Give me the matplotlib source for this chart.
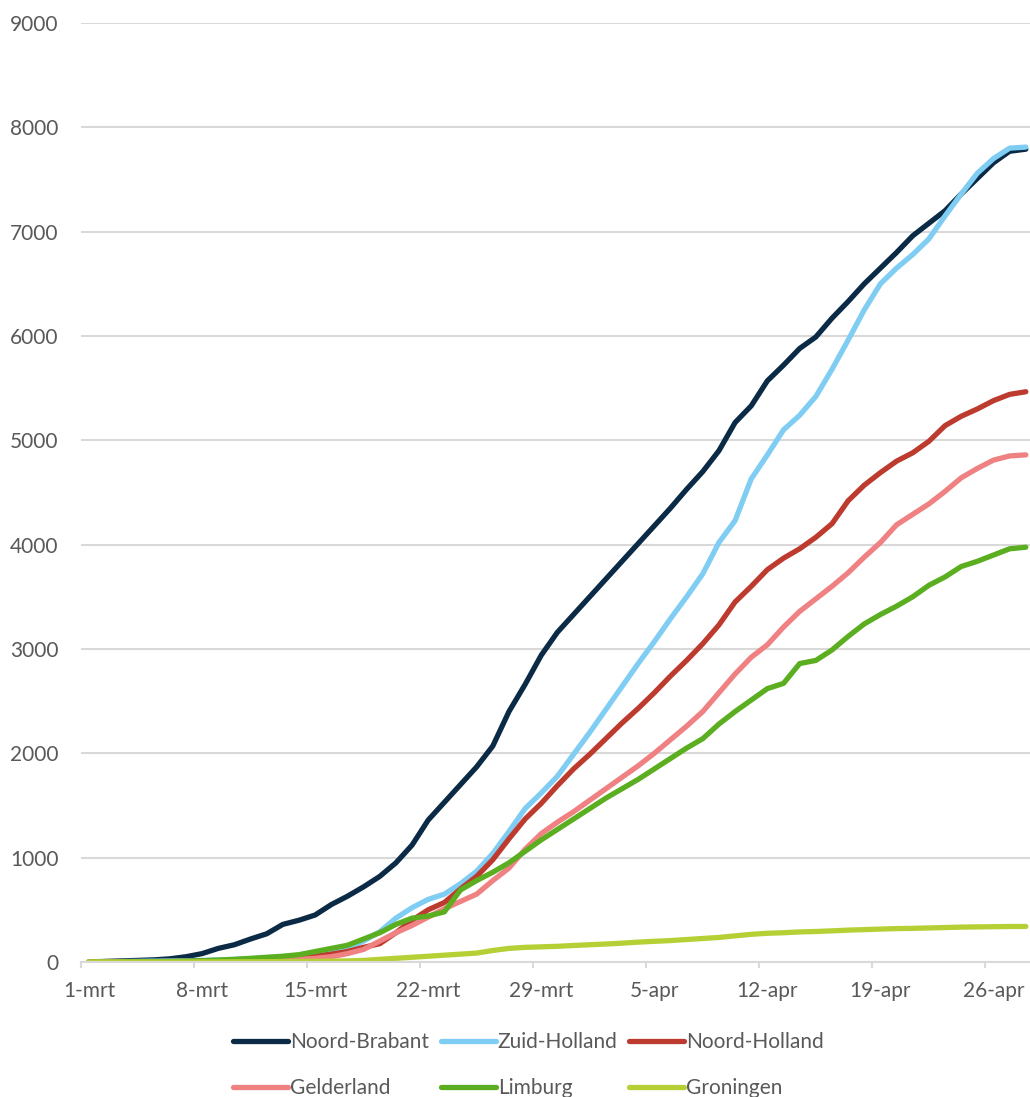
import numpy as np
import matplotlib
matplotlib.use('Agg')
import matplotlib.pyplot as plt

plt.rcParams['font.family'] = ['Lato', 'DejaVu Sans']

# cumulative counts per province, one value per day starting 1 March
noord_brabant = [0, 5, 10, 15, 20, 30, 50, 80, 130, 165,
                 220, 270, 360, 400, 450, 550, 630, 720, 820, 950,
                 1120, 1360, 1530, 1700, 1870, 2070, 2400, 2660, 2940, 3160,
                 3330, 3500, 3670, 3840, 4010, 4180, 4350, 4530, 4700, 4900,
                 5170, 5330, 5570, 5720, 5880, 5990, 6170, 6330, 6500, 6650,
                 6800, 6960, 7080, 7200, 7360, 7510, 7660, 7770, 7790]
zuid_holland = [0, 2, 4, 6, 8, 10, 12, 15, 20, 25,
                30, 40, 50, 60, 80, 100, 130, 200, 290, 420,
                520, 600, 650, 750, 870, 1040, 1250, 1470, 1620, 1780,
                1990, 2200, 2420, 2640, 2860, 3070, 3290, 3500, 3720, 4020,
                4230, 4630, 4860, 5100, 5240, 5420, 5680, 5960, 6250, 6500,
                6650, 6780, 6930, 7150, 7360, 7560, 7700, 7800, 7810]
noord_holland = [0, 0, 1, 2, 3, 4, 5, 7, 10, 14,
                 18, 24, 30, 40, 55, 75, 100, 140, 175, 280,
                 400, 500, 570, 700, 820, 980, 1180, 1370, 1520, 1690,
                 1850, 1990, 2140, 2290, 2430, 2580, 2740, 2890, 3050, 3230,
                 3450, 3600, 3760, 3870, 3960, 4070, 4200, 4420, 4570, 4690,
                 4800, 4880, 4990, 5140, 5230, 5300, 5380, 5440, 5465]
gelderland = [0, 0, 0, 1, 2, 3, 4, 5, 7, 9,
              12, 15, 20, 25, 35, 50, 80, 120, 200, 280,
              350, 430, 510, 580, 650, 780, 900, 1080, 1230, 1340,
              1440, 1550, 1660, 1770, 1880, 2000, 2130, 2260, 2400, 2580,
              2760, 2920, 3040, 3210, 3360, 3480, 3600, 3730, 3880, 4020,
              4190, 4290, 4390, 4510, 4640, 4730, 4810, 4850, 4860]
limburg = [0, 0, 1, 2, 3, 5, 8, 12, 18, 25,
           35, 45, 55, 70, 100, 130, 160, 220, 280, 360,
           420, 440, 480, 690, 780, 860, 950, 1060, 1170, 1270,
           1370, 1470, 1570, 1660, 1750, 1850, 1950, 2050, 2140, 2280,
           2400, 2510, 2620, 2670, 2860, 2890, 2990, 3120, 3240, 3330,
           3410, 3500, 3610, 3690, 3790, 3840, 3900, 3960, 3975]
groningen = [0, 0, 0, 0, 0, 0, 0, 1, 1, 2,
             2, 3, 4, 5, 6, 8, 10, 15, 25, 35,
             45, 55, 65, 75, 85, 110, 130, 140, 145, 150,
             158, 165, 172, 180, 190, 198, 205, 215, 225, 235,
             250, 265, 275, 280, 288, 292, 298, 305, 310, 315,
             320, 322, 326, 330, 334, 336, 338, 340, 340]

provinces = ['Noord-Brabant', 'Zuid-Holland', 'Noord-Holland',
             'Gelderland', 'Limburg', 'Groningen']
series = [noord_brabant, zuid_holland, noord_holland, gelderland, limburg, groningen]
colors = ['#0B2A45', '#7FCDF2', '#BD3B2E', '#EF8183', '#5BAE1F', '#B5D034']

tick_labels = ['1-mrt', '8-mrt', '15-mrt', '22-mrt', '29-mrt',
               '5-apr', '12-apr', '19-apr', '26-apr']

grid_col = '#D9D9D9'
text_col = '#595959'

fig = plt.figure(figsize=(10.30, 10.97), dpi=100)
ax = fig.add_axes([0.0786, 0.1231, 0.9214, 0.856])

days = np.arange(len(noord_brabant))
handles = []
for name, vals, c in zip(provinces, series, colors):
    ln, = ax.plot(days, vals, color=c, linewidth=3.8, label=name,
                  solid_joinstyle='round', solid_capstyle='round')
    handles.append(ln)

ax.set_xlim(-0.5, 58.26)
ax.set_ylim(0, 9000)
ax.set_yticks(np.arange(0, 9001, 1000))
ax.yaxis.grid(True, color=grid_col, linewidth=1.5)
ax.set_axisbelow(True)

# labels sit on every 7th day, tick marks on the day boundaries
ax.set_xticks(np.arange(0, 57, 7))
ax.set_xticklabels(tick_labels)
ax.set_xticks(np.arange(-0.5, 57, 7), minor=True)
ax.tick_params(axis='x', which='major', length=0, pad=14,
               labelsize=15, labelcolor=text_col)
ax.tick_params(axis='x', which='minor', length=4, width=1.5, color=grid_col)
ax.tick_params(axis='y', length=0, pad=16, labelsize=15, labelcolor=text_col)

for s in ['top', 'right', 'left']:
    ax.spines[s].set_visible(False)
ax.spines['bottom'].set_color(grid_col)
ax.spines['bottom'].set_linewidth(1.5)

# legend fills column by column, so reorder to read row by row
order = [0, 3, 1, 4, 2, 5]
fig.legend([handles[i] for i in order], [provinces[i] for i in order],
           loc='center left', bbox_to_anchor=(233 / 1030, 1 - 1065 / 1097),
           ncol=3, frameon=False, fontsize=15, labelcolor=text_col,
           handlelength=2.64, handletextpad=0.1, columnspacing=0.55,
           labelspacing=1.25, borderpad=0, borderaxespad=0)

fig.savefig('out.png', dpi=100)
